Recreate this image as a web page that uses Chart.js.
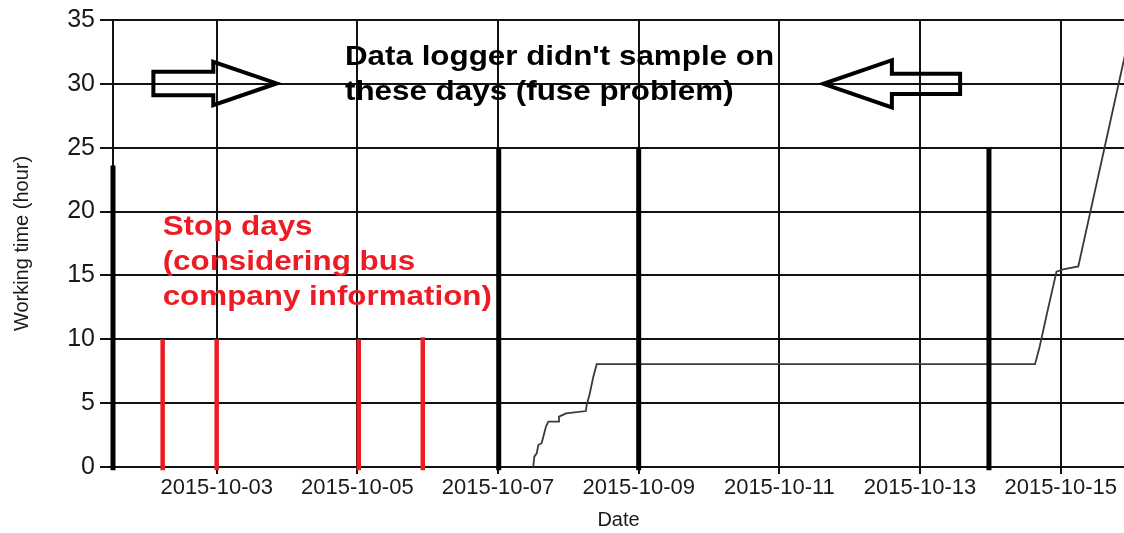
<!DOCTYPE html>
<html>
<head>
<meta charset="utf-8">
<script src="https://cdn.jsdelivr.net/npm/chart.js@4/dist/chart.umd.min.js"></script>
<style>
  html, body { margin: 0; padding: 0; background: #fff; }
  #wrap { width: 1124px; height: 533px; }
</style>
</head>
<body>
<div id="wrap"><canvas id="grafico" width="1124" height="533"></canvas></div>
<script>
// x em dias contados a partir de 2015-10-01 00:00
const tickDias = [2, 4, 6, 8, 10, 12, 14];
const yTicks = [0, 5, 10, 15, 20, 25, 30, 35];

// horas de trabalho acumuladas (linha cinza)
const diasTrabalho = [6.50, 6.516, 6.55, 6.573, 6.62, 6.644, 6.682, 6.715, 6.857, 6.867, 6.967, 7.25, 7.26, 7.30, 7.355, 7.403, 13.635, 13.70, 13.80, 13.94, 14.05, 14.25, 15.0];
const horasTrabalho = [0, 0.81, 1.07, 1.72, 1.86, 2.37, 3.16, 3.55, 3.55, 3.94, 4.2, 4.38, 4.86, 5.64, 7.07, 8.05, 8.05, 9.4, 11.9, 15.3, 15.5, 15.7, 34.4];

// dias de parada (barras vermelhas)
const diasParada = [1.232, 2.0, 4.02, 4.93];
const alturaParada = [10, 10, 10, 10.15];

// dias sem amostragem (barras pretas)
const diasFalha = [0.526, 6.01, 8.0, 12.98];
const alturaFalha = [23.6, 25, 25, 25];

const baseBarra = -0.25;

function rotuloData(d) {
    const dt = new Date(Date.UTC(2015, 9, 1 + Math.round(d)));
    return dt.toISOString().slice(0, 10);
}

function hastes(dias, alturas) {
    const pts = [];
    dias.forEach(function (d, i) {
        pts.push({ x: d, y: baseBarra });
        pts.push({ x: d, y: alturas[i] });
        pts.push({ x: d, y: null });
    });
    return pts;
}

const setas = [
    { base: 1.10, pescoco: 1.952, ponta: 2.853, y: 30.03, haste: 0.92, cabeca: 1.70 },
    { base: 12.57, pescoco: 11.60, ponta: 10.625, y: 30.0, haste: 0.80, cabeca: 1.85 }
];

const notas = [
    { linhas: ["Data logger didn't sample on", 'these days (fuse problem)'], x: 3.824, y: 31.44, cor: '#000' },
    { linhas: ['Stop days', '(considering bus', 'company information)'], x: 1.232, y: 18.17, cor: '#ed1c24' }
];

const anotacoes = {
    id: 'anotacoes',
    afterDraw(chart) {
        const ctx = chart.ctx;
        const xs = chart.scales.x, ys = chart.scales.y;
        ctx.save();
        ctx.strokeStyle = '#000';
        ctx.lineWidth = 4;
        ctx.lineJoin = 'miter';
        setas.forEach(function (s) {
            const px = v => xs.getPixelForValue(v);
            const py = v => ys.getPixelForValue(v);
            ctx.beginPath();
            ctx.moveTo(px(s.base), py(s.y + s.haste));
            ctx.lineTo(px(s.pescoco), py(s.y + s.haste));
            ctx.lineTo(px(s.pescoco), py(s.y + s.cabeca));
            ctx.lineTo(px(s.ponta), py(s.y));
            ctx.lineTo(px(s.pescoco), py(s.y - s.cabeca));
            ctx.lineTo(px(s.pescoco), py(s.y - s.haste));
            ctx.lineTo(px(s.base), py(s.y - s.haste));
            ctx.closePath();
            ctx.stroke();
        });
        ctx.font = "bold 28px 'Liberation Sans', Arial, sans-serif";
        ctx.textBaseline = 'alphabetic';
        ctx.textAlign = 'left';
        notas.forEach(function (n) {
            ctx.fillStyle = n.cor;
            n.linhas.forEach(function (linha, i) {
                ctx.save();
                ctx.translate(xs.getPixelForValue(n.x), ys.getPixelForValue(n.y) + i * 35);
                ctx.scale(1.12, 1);
                ctx.fillText(linha, 0, 0);
                ctx.restore();
            });
        });
        ctx.restore();
    }
};

Chart.defaults.font.family = "'Liberation Sans', Arial, sans-serif";
const corGrade = '#111';

const ctx = document.getElementById('grafico').getContext('2d');
const grafico = new Chart(ctx, {
    type: 'line',
    data: {
        datasets: [
            {
                label: 'falha',
                data: hastes(diasFalha, alturaFalha),
                borderColor: '#000',
                borderWidth: 5,
                borderCapStyle: 'butt',
                pointRadius: 0,
                clip: false,
                order: 1
            },
            {
                label: 'parada',
                data: hastes(diasParada, alturaParada),
                borderColor: '#ed1c24',
                borderWidth: 4.5,
                borderCapStyle: 'butt',
                pointRadius: 0,
                clip: false,
                order: 2
            },
            {
                label: 'horas',
                data: diasTrabalho.map((d, i) => ({ x: d, y: horasTrabalho[i] })),
                borderColor: '#3a3a3a',
                borderWidth: 1.8,
                pointRadius: 0,
                tension: 0,
                order: 3
            }
        ]
    },
    options: {
        responsive: false,
        animation: false,
        layout: { padding: { top: 20, right: 0, left: 0, bottom: 0 } },
        plugins: { legend: { display: false }, tooltip: { enabled: false } },
        scales: {
            x: {
                type: 'linear',
                min: 0.526,
                max: 14.9,
                afterBuildTicks: function (scale) {
                    scale.ticks = tickDias.map(v => ({ value: v }));
                },
                afterFit: function (scale) { scale.height = 66; },
                ticks: {
                    autoSkip: false,
                    maxRotation: 0,
                    padding: 1,
                    color: '#1a1a1a',
                    font: { size: 22 },
                    callback: function (value) { return rotuloData(value); }
                },
                grid: { color: corGrade, lineWidth: 2, tickLength: 7 },
                border: { display: true, color: corGrade, width: 2 },
                title: {
                    display: true,
                    text: 'Date',
                    color: '#1a1a1a',
                    font: { size: 20 },
                    padding: { top: 0, bottom: 1 }
                }
            },
            y: {
                min: 0,
                max: 35,
                afterBuildTicks: function (scale) {
                    scale.ticks = yTicks.map(v => ({ value: v }));
                },
                afterFit: function (scale) { scale.width = 113; },
                ticks: {
                    padding: 5,
                    color: '#1a1a1a',
                    font: { size: 25 }
                },
                grid: { color: corGrade, lineWidth: 2, tickLength: 13 },
                border: { display: true, color: corGrade, width: 2 },
                title: {
                    display: true,
                    text: 'Working time (hour)',
                    color: '#1a1a1a',
                    font: { size: 20 },
                    padding: { top: 10, bottom: 0 }
                }
            }
        }
    },
    plugins: [anotacoes]
});
</script>
</body>
</html>
